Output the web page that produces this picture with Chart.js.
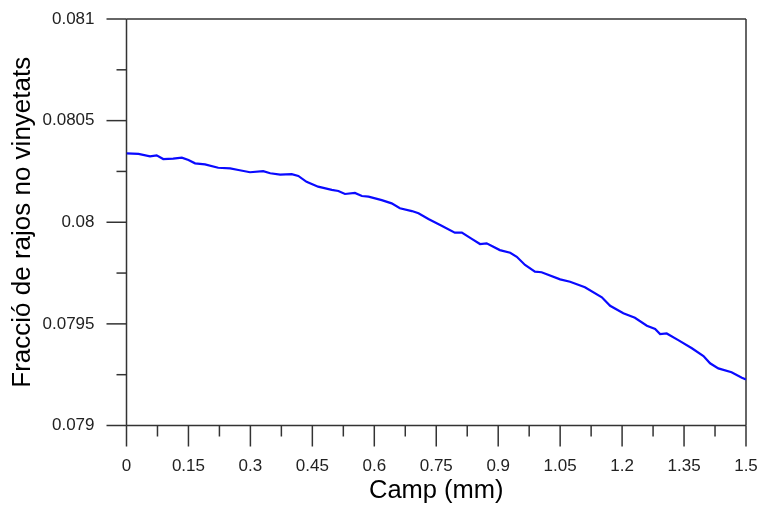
<!DOCTYPE html>
<html>
<head>
<meta charset="utf-8">
<script src="https://cdn.jsdelivr.net/npm/chart.js@4/dist/chart.umd.min.js"></script>
<style>
  html, body { margin: 0; padding: 0; background: #fff; }
  #wrap { width: 758px; height: 506px; }
</style>
</head>
<body>
<div id="wrap"><canvas id="c" width="758" height="506"></canvas></div>
<script>
// Field position (mm) and fraction of unvignetted rays
const fieldMm = [
  0.000, 0.029, 0.057, 0.073, 0.089, 0.113, 0.134, 0.150, 0.166, 0.190,
  0.222, 0.251, 0.271, 0.299, 0.331, 0.348, 0.372, 0.400, 0.416, 0.436,
  0.464, 0.497, 0.513, 0.529, 0.553, 0.570, 0.586, 0.618, 0.642, 0.662,
  0.691, 0.707, 0.731, 0.763, 0.795, 0.812, 0.836, 0.856, 0.872, 0.904,
  0.929, 0.945, 0.965, 0.989, 1.005, 1.050, 1.074, 1.110, 1.151, 1.171,
  1.203, 1.231, 1.260, 1.280, 1.292, 1.308, 1.336, 1.369, 1.397, 1.413,
  1.433, 1.465, 1.490, 1.500
];
const rayFraction = [
  0.080339, 0.080336, 0.080324, 0.080329, 0.080311, 0.080313, 0.080318, 0.080306, 0.080290, 0.080285,
  0.080268, 0.080265, 0.080257, 0.080246, 0.080251, 0.080241, 0.080234, 0.080237, 0.080228, 0.080199,
  0.080175, 0.080159, 0.080154, 0.080139, 0.080144, 0.080129, 0.080126, 0.080109, 0.080093, 0.080069,
  0.080055, 0.080044, 0.080016, 0.079983, 0.079949, 0.079949, 0.079918, 0.079893, 0.079896, 0.079863,
  0.079850, 0.079830, 0.079790, 0.079757, 0.079754, 0.079719, 0.079707, 0.079680, 0.079631, 0.079589,
  0.079552, 0.079530, 0.079491, 0.079475, 0.079450, 0.079453, 0.079420, 0.079380, 0.079342, 0.079306,
  0.079281, 0.079262, 0.079235, 0.079227
];

// Axis tick labels
const xTickLabels = ['0', '0.15', '0.3', '0.45', '0.6', '0.75', '0.9', '1.05', '1.2', '1.35', '1.5'];
const yTickLabels = ['0.079', '0.0795', '0.08', '0.0805', '0.081'];

const xTicks = xTickLabels.map(Number);
const yTicks = yTickLabels.map(Number);
const midpoints = arr => arr.slice(1).map((v, i) => (v + arr[i]) / 2);
const xMinor = midpoints(xTicks);
const yMinor = midpoints(yTicks);

const FONT = "'Liberation Sans', Arial, sans-serif";
const AXIS_COLOR = '#333';

// Draws the axis lines, frame and major/minor tick marks
const frameAndTicks = {
  id: 'frameAndTicks',
  beforeDatasetsDraw(chart) {
    const { ctx, chartArea: a, scales: { x, y } } = chart;
    const line = (x1, y1, x2, y2) => { ctx.beginPath(); ctx.moveTo(x1, y1); ctx.lineTo(x2, y2); ctx.stroke(); };
    ctx.save();
    ctx.strokeStyle = AXIS_COLOR;
    ctx.lineWidth = 1.5;
    ctx.lineCap = 'butt';
    // frame
    line(a.left, a.top, a.right, a.top);
    line(a.right, a.top, a.right, a.bottom);
    line(a.left, a.top, a.left, a.bottom);
    line(a.left, a.bottom, a.right, a.bottom);
    // y ticks (outside, to the left)
    yTicks.forEach(v => { const p = y.getPixelForValue(v); line(a.left - 20, p, a.left, p); });
    yMinor.forEach(v => { const p = y.getPixelForValue(v); line(a.left - 10, p, a.left, p); });
    // x ticks (outside, below)
    xTicks.forEach(v => { const p = x.getPixelForValue(v); line(p, a.bottom, p, a.bottom + 21); });
    xMinor.forEach(v => { const p = x.getPixelForValue(v); line(p, a.bottom, p, a.bottom + 11); });
    ctx.restore();
  }
};

new Chart(document.getElementById('c'), {
  type: 'line',
  data: {
    datasets: [{
      data: fieldMm.map((v, i) => ({ x: v, y: rayFraction[i] })),
      borderColor: '#0a0aff',
      borderWidth: 2.2,
      pointRadius: 0,
      tension: 0,
      fill: false
    }]
  },
  options: {
    responsive: false,
    animation: false,
    devicePixelRatio: 1,
    layout: { padding: { top: 19, right: 12, left: 0, bottom: 0 } },
    plugins: { legend: { display: false }, tooltip: { enabled: false } },
    scales: {
      x: {
        type: 'linear',
        min: 0, max: 1.5,
        afterBuildTicks: s => { s.ticks = xTicks.map(v => ({ value: v })); },
        afterFit: s => { s.height = 80.5; s.paddingLeft = 0; s.paddingRight = 0; },
        grid: { display: false, drawTicks: false },
        border: { display: false },
        ticks: {
          autoSkip: false, maxRotation: 0, padding: 31,
          color: '#222', font: { family: FONT, size: 17 },
          callback: (v, i) => xTickLabels[i]
        },
        title: {
          display: true, text: 'Camp (mm)', color: '#000',
          font: { family: FONT, size: 25.5 }, padding: { top: 0, bottom: 0 }
        }
      },
      y: {
        type: 'linear',
        min: 0.079, max: 0.081,
        afterBuildTicks: s => { s.ticks = yTicks.map(v => ({ value: v })); },
        afterFit: s => { s.width = 126.5; s.paddingTop = 0; s.paddingBottom = 0; },
        grid: { display: false, drawTicks: false },
        border: { display: false },
        ticks: {
          autoSkip: false, padding: 32,
          color: '#222', font: { family: FONT, size: 17 },
          callback: (v, i) => yTickLabels[i]
        },
        title: {
          display: true, text: 'Fracció de rajos no vinyetats', color: '#000',
          font: { family: FONT, size: 26 }, padding: { top: 7, bottom: 0 }
        }
      }
    }
  },
  plugins: [frameAndTicks]
});
</script>
</body>
</html>
